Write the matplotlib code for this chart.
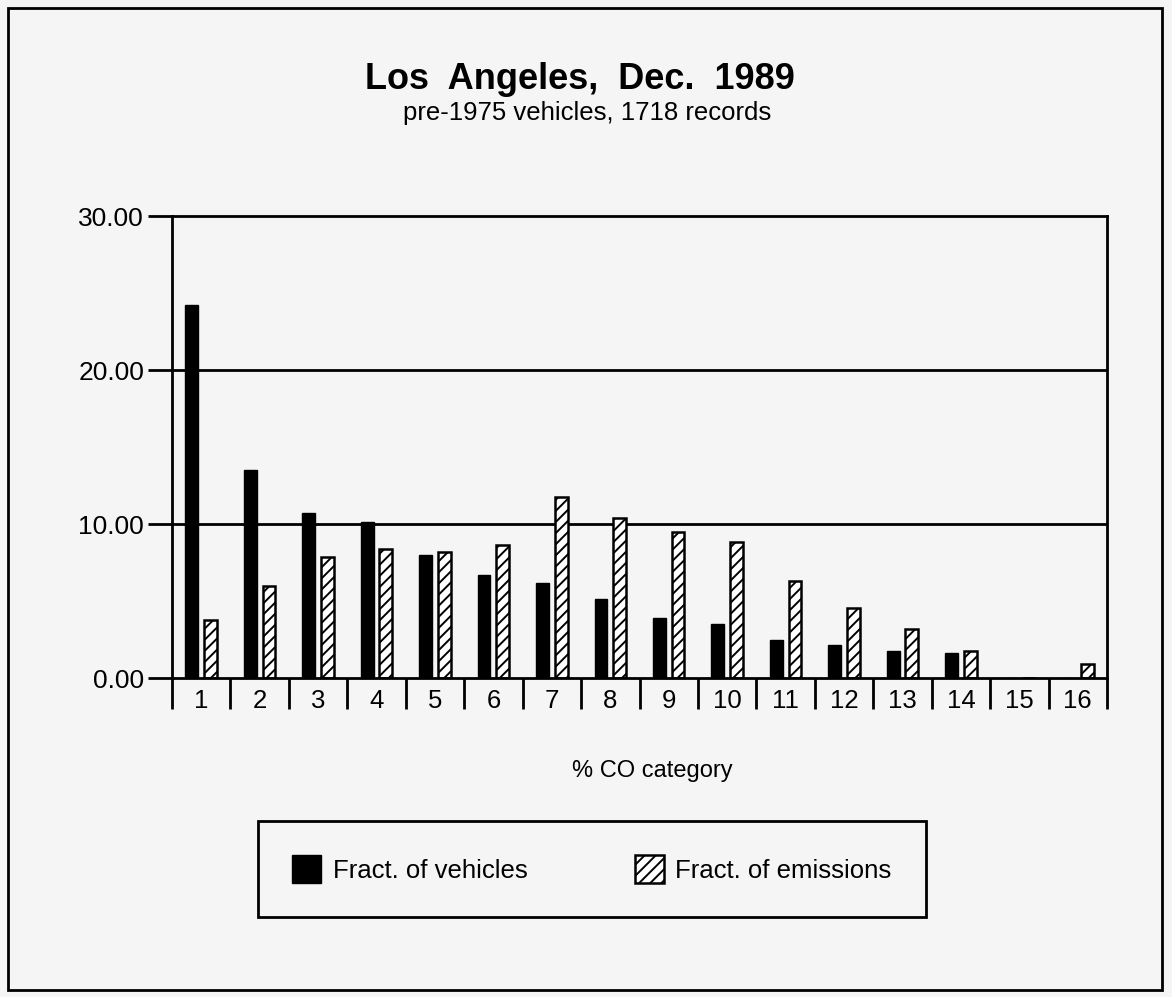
import matplotlib.pyplot as plt
from matplotlib.patches import Rectangle
import numpy as np

plt.rcParams['font.family'] = ['Liberation Sans', 'DejaVu Sans']
plt.rcParams['hatch.linewidth'] = 1.4

categories = [str(i) for i in range(1, 17)]
fract_vehicles = [24.2, 13.5, 10.7, 10.1, 8.0, 6.7, 6.15, 5.1, 3.9, 3.5, 2.5, 2.15, 1.77, 1.62, 0.0, 0.0]
fract_emissions = [3.75, 6.0, 7.85, 8.4, 8.2, 8.65, 11.75, 10.4, 9.5, 8.8, 6.3, 4.57, 3.17, 1.77, 0.0, 0.89]
y_ticks = [0, 10, 20, 30]
y_labels = ["0.00", "10.00", "20.00", "30.00"]

W, H = 1172, 997
fig = plt.figure(figsize=(W / 100, H / 100), dpi=100)
fig.patch.set_facecolor('#f5f5f5')

# outer frame round the whole page
fig.patches.append(Rectangle((8 / W, 7 / H), 1154 / W, 982 / H, transform=fig.transFigure,
                             fill=False, edgecolor='black', linewidth=2))

ax = fig.add_axes([172 / W, 319 / H, 935 / W, 462 / H])
ax.set_facecolor('#f5f5f5')

x = np.arange(1, len(categories) + 1)
w = 0.22
ax.bar(x - 0.16, fract_vehicles, w, color='black', edgecolor='black', linewidth=1,
       label='Fract. of vehicles')
ax.bar(x + 0.16, fract_emissions, w, color='white', edgecolor='black', linewidth=1.8,
       hatch='///', label='Fract. of emissions')

ax.set_xlim(0.5, 16.5)
ax.set_ylim(0, 30)

ax.set_yticks(y_ticks)
ax.set_yticklabels(y_labels, fontsize=19)
ax.tick_params(axis='y', direction='out', length=17, width=2, pad=3)
for v in y_ticks[1:3]:
    ax.axhline(v, color='black', linewidth=2, zorder=0)

ax.set_xticks(x)
ax.set_xticklabels(categories, fontsize=18.5)
ax.tick_params(axis='x', which='major', length=0, pad=8)
ax.set_xticks(np.arange(0.5, 17, 1), minor=True)
ax.tick_params(axis='x', which='minor', direction='out', length=22, width=2)

for s in ax.spines.values():
    s.set_linewidth(2)

fig.text(580 / W, 1 - 89 / H, "Los  Angeles,  Dec.  1989", ha='center', va='baseline',
         fontsize=26, fontweight='bold')
fig.text(587 / W, 1 - 120 / H, "pre-1975 vehicles, 1718 records", ha='center', va='baseline',
         fontsize=18.5)
fig.text(652 / W, 1 - 777 / H, "% CO category", ha='center', va='baseline', fontsize=17)

leg = ax.legend(loc='center', bbox_to_anchor=(592 / W, 1 - 869 / H), bbox_transform=fig.transFigure,
                ncol=2, fontsize=18.5, frameon=True, fancybox=False, borderpad=1.35,
                handlelength=1.13, handleheight=1.25, handletextpad=0.43, columnspacing=4.2)
leg.get_frame().set_edgecolor('black')
leg.get_frame().set_linewidth(2)
leg.get_frame().set_facecolor('#f5f5f5')
leg.get_frame().set_alpha(1)

fig.savefig('out.png', dpi=100, facecolor=fig.get_facecolor())
